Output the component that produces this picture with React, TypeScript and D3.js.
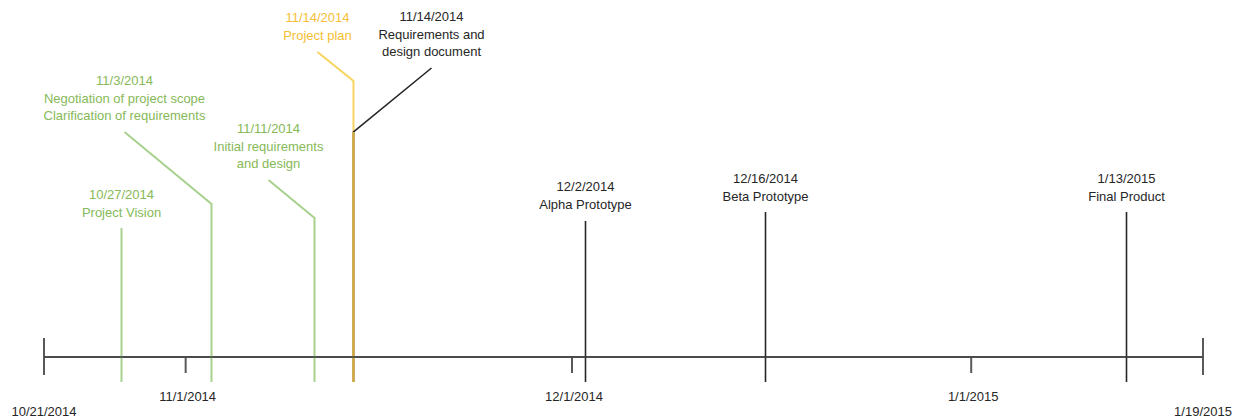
import React from "react";
import * as d3 from "d3";

// milestone data
const eventDates = ["2014-10-27", "2014-11-03", "2014-11-11", "2014-11-14", "2014-11-14", "2014-12-02", "2014-12-16", "2015-01-13"];
const eventLabels = [
  ["Project Vision"],
  ["Negotiation of project scope", "Clarification of requirements"],
  ["Initial requirements", "and design"],
  ["Project plan"],
  ["Requirements and", "design document"],
  ["Alpha Prototype"],
  ["Beta Prototype"],
  ["Final Product"],
];
const eventGroup = ["green", "green", "green", "orange", "black", "black", "black", "black"];

const axisStart = "2014-10-21";
const axisEnd = "2015-01-19";
const monthTicks = ["2014-11-01", "2014-12-01", "2015-01-01"];

// layout: top of the vertical stem, leader end offset, first label baseline
const stemTop = [228, 204, 218, 81, 132, 221, 212, 212];
const leaderDx = [0, -87, -46, -36, 78, 0, 0, 0];
const leaderRise = [0, 72, 38, 29, 64, 0, 0, 0];
const labelBase = [199, 85, 133, 22, 21, 191, 183, 183];

const lineColor: Record<string, string> = { green: "#a9d18e", orange: "#f9d45e", black: "#262626" };
const textColor: Record<string, string> = { green: "#86b957", orange: "#f5be35", black: "#262626" };

const parse = (s: string) => {
  const [y, m, d] = s.split("-").map(Number);
  return new Date(Date.UTC(y, m - 1, d));
};
const fmt = d3.utcFormat("%-m/%-d/%Y");

const W = 1245;
const H = 420;
const axisY = 357;
const stemBottom = 382;
const FONT = "'Liberation Sans', Arial, sans-serif";

export default function App() {
  const x = d3.scaleUtc().domain([parse(axisStart), parse(axisEnd)]).range([44, 1203]);
  const line = d3.line<[number, number]>();

  return (
    <svg width={W} height={H} style={{ position: "absolute", left: 0, top: 0, background: "#fff" }} fontFamily={FONT} fontSize={13}>
      {/* axis */}
      <line x1={x(parse(axisStart))} x2={x(parse(axisEnd))} y1={axisY} y2={axisY} stroke="#404040" strokeWidth={1.5} />
      {[axisStart, axisEnd].map((d) => (
        <g key={d}>
          <line x1={x(parse(d))} x2={x(parse(d))} y1={axisY - 19} y2={axisY + 18} stroke="#595959" strokeWidth={2} />
          <text x={x(parse(d))} y={416} textAnchor="middle" fill="#262626">{fmt(parse(d))}</text>
        </g>
      ))}
      {monthTicks.map((d) => (
        <g key={d}>
          <line x1={x(parse(d))} x2={x(parse(d))} y1={axisY} y2={axisY + 16} stroke="#595959" strokeWidth={2} />
          <text x={x(parse(d)) + 2} y={401} textAnchor="middle" fill="#262626">{fmt(parse(d))}</text>
        </g>
      ))}
      {/* milestones */}
      {eventDates.map((d, i) => {
        const ex = Math.round(x(parse(d))) + 0.5;
        const lx = ex + leaderDx[i];
        const pts: [number, number][] = [[ex, stemBottom], [ex, stemTop[i]]];
        if (leaderDx[i] !== 0) pts.push([lx, stemTop[i] - leaderRise[i]]);
        const g = eventGroup[i];
        const lines = [fmt(parse(d)), ...eventLabels[i]];
        return (
          <g key={i}>
            <path d={line(pts) || ""} fill="none" stroke={lineColor[g]} strokeWidth={g === "black" ? 1.6 : 2} />
            {lines.map((t, j) => (
              <text key={j} x={lx} y={labelBase[i] + j * 17.5} textAnchor="middle" fill={textColor[g]}>{t}</text>
            ))}
          </g>
        );
      })}
      {/* shared stem below the black leader on 11/14 */}
      <line x1={Math.round(x(parse("2014-11-14"))) + 0.5} x2={Math.round(x(parse("2014-11-14"))) + 0.5} y1={stemTop[4]} y2={stemBottom} stroke="#d6ab3c" strokeWidth={2} />
      <line x1={x(parse(axisStart))} x2={x(parse(axisEnd))} y1={axisY} y2={axisY} stroke="#404040" strokeWidth={1.5} />
    </svg>
  );
}
